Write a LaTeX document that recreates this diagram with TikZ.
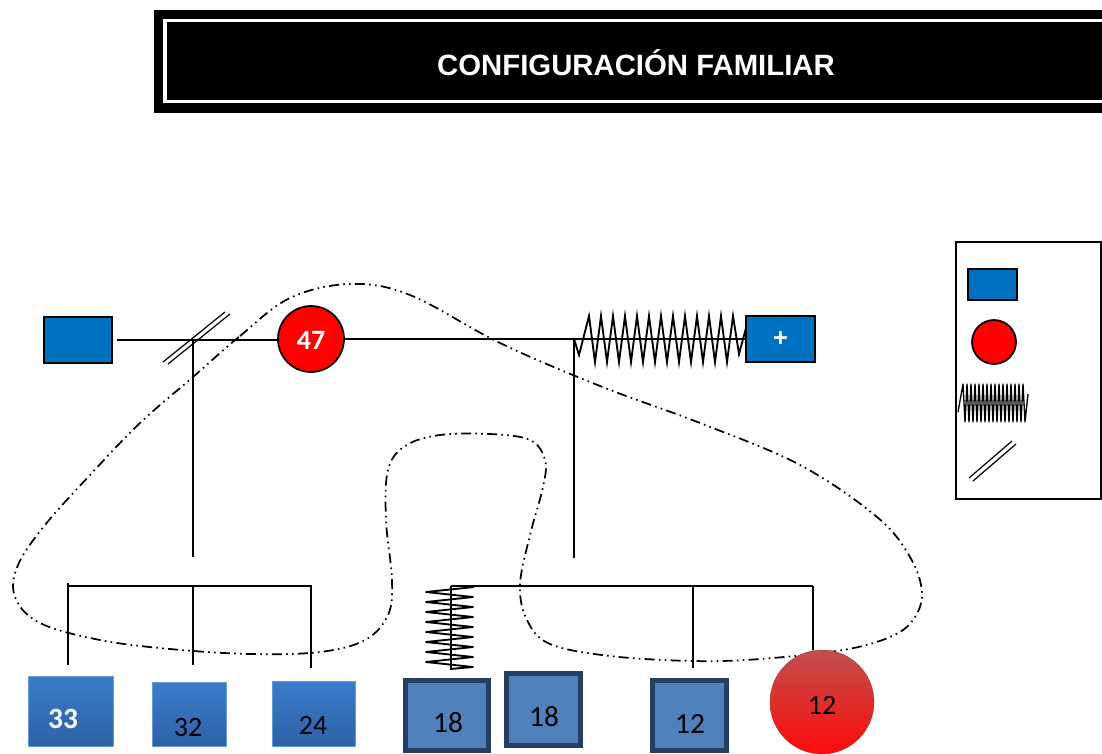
\documentclass[tikz,border=0pt]{standalone}
\usepackage{fontspec}
\setmainfont{Liberation Sans}
\newfontfamily\calib{Carlito}
\definecolor{mblue}{HTML}{0070C0}
\definecolor{bfill}{HTML}{4F81BD}
\definecolor{navy}{HTML}{243F60}
\definecolor{gtop}{HTML}{3B7DCB}
\definecolor{gbot}{HTML}{2D61A6}
\definecolor{gedge}{HTML}{6A9AD6}
\definecolor{rtop}{HTML}{C0504D}
\definecolor{rbot}{HTML}{FF0A0A}
\tikzset{
  ln/.style={line width=1.4pt},
  thinln/.style={line width=0.9pt},
  ddot/.style={line width=1.3pt, dash pattern=on 7.5pt off 3.2pt on 1.2pt off 3.2pt on 1.2pt off 3.2pt},
  bluebox/.style={rectangle, draw=black, line width=1.3pt, fill=mblue, inner sep=0pt},
  redcirc/.style={circle, draw=black, line width=1.3pt, fill=red, inner sep=0pt},
  gradbox/.style={rectangle, draw=gedge, line width=0.6pt, top color=gtop, bottom color=gbot, inner sep=0pt},
  navybox/.style={rectangle, draw=navy, line width=3.75pt, fill=bfill, inner sep=0pt},
  numtxt/.style={font=\calib\fontsize{21}{25}\selectfont, text=black, inner sep=0pt},
  whitenum/.style={font=\calib\bfseries\fontsize{22}{26}\selectfont, text=white, inner sep=0pt}
}
\begin{document}
\begin{tikzpicture}[x=0.75pt,y=-0.75pt]
\useasboundingbox (0,0) rectangle (1102,753);

% title banner
\fill[black] (154,10) rectangle (1110,113);
\draw[white, line width=2.6pt] (165,20.5) rectangle (1115,101.5);
\node[font=\bfseries\fontsize{22}{26}\selectfont, text=white, inner sep=0pt] (title) at (636,63) {CONFIGURACIÓN FAMILIAR};

% enclosing dash-dot curve
\draw[ddot] plot[smooth cycle, tension=0.6] coordinates {
 (193,377) (240,336) (290,298) (350,284) (410,295) (500,343) (600,386) (700,423) (800,465)
 (877,517) (910,557) (922,593) (913,620) (890,637) (843,650) (760,659) (693,661) (610,656)
 (550,644) (527,620) (520,585) (530,535) (543,487) (545,460) (530,440) (490,434) (440,435)
 (405,446) (388,470) (386,520) (392,580) (388,615) (365,640) (320,652) (250,654) (170,649)
 (100,640) (40,623) (15,597) (18,565) (45,525) (90,475) (140,423)};

% parents row
\node[bluebox, minimum width=51pt, minimum height=34.5pt] (m1) at (78,340) {};
\node[redcirc, minimum size=49.5pt] (f47) at (311,339) {};
\node[font=\calib\bfseries\fontsize{21}{25}\selectfont, text=white, inner sep=0pt] (t47) at (311,340) {47};
\node[bluebox, minimum width=51.75pt, minimum height=34.5pt, font=\bfseries\fontsize{19}{22}\selectfont, text=white] (plus) at (780.5,339) {+};

\draw[ln, shorten <=3pt] (m1.east) -- (m1.east -| f47.west);
\draw[ln] (f47.east) -- (plus.west);

% divorce slash
\coordinate (d1) at (193,340);
\coordinate (d1b) at (193,557);
\draw[thinln] (163,362) -- (225,312);
\draw[thinln] (168,364) -- (230,314);
\draw[ln] (d1) -- (d1b);

% spring (conflict) between 47 and +
\coordinate (s1) at (574,339);
\coordinate (s1b) at (574,558);
\draw[ln] (s1) -- (s1b);
\draw[ln, line join=miter] (574,339) -- (579,355)
  \foreach \k in {0,...,11} { -- ({589+12*\k},316) -- ({595+12*\k},362) }
  -- (733,316) -- (739,354) -- (746,328);

% left sibship
\coordinate (lh1) at (68,586);
\coordinate (lh2) at (311,586);
\coordinate (lh3) at (193,586);
\coordinate (lv1) at (68,665);
\coordinate (lv2) at (311,668);
\coordinate (lv3) at (193,665);
\draw[ln] (68,583) -- (lh1) -- (lh2) -- (lv2);
\draw[ln] (lh1) -- (lv1);
\draw[ln] (lh3) -- (lv3);

% right sibship
\coordinate (rh1) at (451,586);
\coordinate (rh2) at (813,586);
\coordinate (rh3) at (693,586);
\coordinate (rv1) at (451,670);
\coordinate (rv3) at (693,668);
\draw[ln] (rh1) -- (rh2);
\draw[ln] (rh3) -- (rv3);
\draw[ln] (rh1) -- (rv1);
\draw[ln, line join=round] (474,587)
  \foreach \k in {0,...,7} { -- (426,{592+10*\k}) -- (473,{597+10*\k}) }
  -- (450,669);

% children
\node[gradbox, minimum width=63.75pt, minimum height=52.5pt] (c33) at (70.5,711) {};
\node[whitenum] (t33) at (63,719) {33};
\node[gradbox, minimum width=55.5pt, minimum height=48pt] (c32) at (189,714) {};
\node[numtxt] (t32) at (188,727) {32};
\node[gradbox, minimum width=62.25pt, minimum height=48.75pt] (c24) at (313.5,713.5) {};
\node[numtxt] (t24) at (313,725) {24};

\node[navybox, minimum width=62.25pt, minimum height=52.5pt] (d18a) at (447,715.5) {};
\node[numtxt, font=\calib\fontsize{22}{26}\selectfont] (t18a) at (448,723) {18};
\node[navybox, minimum width=55.5pt, minimum height=54pt] (d18b) at (543.5,709.5) {};
\node[numtxt, font=\calib\fontsize{22}{26}\selectfont] (t18b) at (544,717) {18};
\node[navybox, minimum width=55.5pt, minimum height=52.5pt] (d12) at (689.5,715.5) {};
\node[numtxt, font=\calib\fontsize{22}{26}\selectfont] (t12) at (690,724) {12};

\node[circle, minimum size=78pt, inner sep=0pt, top color=rtop, bottom color=rbot, draw=rtop!80!black, line width=0.3pt] (r12) at (822,702) {};
\node[numtxt] (tr12) at (822,705) {12};
\draw[ln] (rh2) -- (rh2 |- r12.north);

% legend
\draw[ln] (956,242) rectangle (1101,499);
\node[bluebox, minimum width=36.75pt, minimum height=23.25pt] (lrect) at (992.5,284.5) {};
\node[redcirc, minimum size=33pt] (lcirc) at (994,342) {};
\draw[line width=1pt, line join=round] (958,412)
  \foreach \k in {0,...,15} { -- ({963+4*\k},384) -- ({965+4*\k},422) }
  -- (1028,394);
\draw[thinln] (969,478) -- (1012,441);
\draw[thinln] (973,481) -- (1016,444);

\end{tikzpicture}
\end{document}
